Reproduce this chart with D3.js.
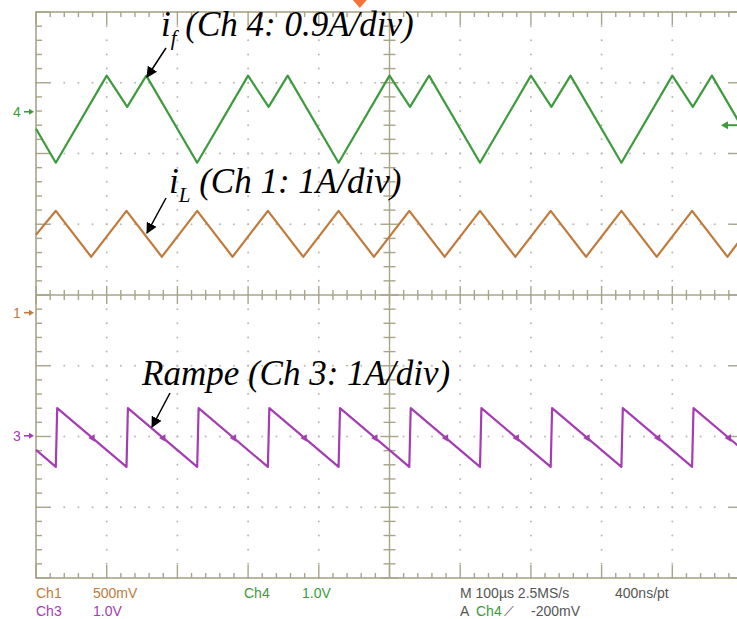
<!DOCTYPE html>
<html><head><meta charset="utf-8">
<script src="https://cdn.jsdelivr.net/npm/d3@7"></script>
<style>html,body{margin:0;padding:0;background:#fff;}svg{display:block;}</style>
</head><body>
<script>
// ---- data (time in µs, amplitude in screen divisions from centre) ----
const greenT = [0, 28, 100, 129, 156, 228, 300, 329, 356, 428, 500, 529, 556, 628, 700, 729, 756, 828, 900, 929, 956, 1000];
const greenV = [2.35, 1.87, 3.10, 2.66, 3.10, 1.87, 3.10, 2.66, 3.10, 1.87, 3.10, 2.66, 3.10, 1.87, 3.10, 2.66, 3.10, 1.87, 3.10, 2.66, 3.10, 2.35];
const orangeT = [0, 28, 78, 128, 178, 228, 278, 328, 378, 428, 478, 528, 578, 628, 678, 728, 778, 828, 878, 928, 978, 1000];
const orangeV = [0.85, 1.19, 0.54, 1.19, 0.54, 1.19, 0.54, 1.19, 0.54, 1.19, 0.54, 1.19, 0.54, 1.19, 0.54, 1.19, 0.54, 1.19, 0.54, 1.19, 0.54, 0.83];
const purpleT = [0, 28, 30, 128, 130, 228, 230, 328, 330, 428, 430, 528, 530, 628, 630, 728, 730, 828, 830, 928, 930, 1000];
const purpleV = [-2.19, -2.43, -1.60, -2.43, -1.60, -2.43, -1.60, -2.43, -1.60, -2.43, -1.60, -2.43, -1.60, -2.43, -1.60, -2.43, -1.60, -2.43, -1.60, -2.43, -1.60, -2.19];
const purpleMarkT = [80, 180, 280, 380, 480, 580, 680, 780, 880, 980];
const purpleMarkV = [-2.02, -2.02, -2.02, -2.02, -2.02, -2.02, -2.02, -2.02, -2.02, -2.02];
const chNames = ["4", "1", "3"];
const chLevels = [2.59, -0.25, -1.99];
const triggerT = 458;
const triggerLevel = 2.40;
const annotations = [
  {main: "i", sub: "f", rest: " (Ch 4: 0.9A/div)"},
  {main: "i", sub: "L", rest: " (Ch 1: 1A/div)"},
  {main: "Rampe", sub: "", rest: " (Ch 3: 1A/div)"}
];
const footerRow1 = [["Ch1","c1"],["500mV","c1"],["Ch4","c4"],["1.0V","c4"],["M 100µs 2.5MS/s","g"],["400ns/pt","g"]];
const footerRow2 = [["Ch3","c3"],["1.0V","c3"],["A","g"],["Ch4","c4"],["⟋","g"],["-200mV","g"]];

// ---- layout / styles ----
const W = 737, H = 619;
const C = {c4: "#3d9a3d", c1: "#c07b3c", c3: "#a43db2", g: "#555555", grid: "#a8a48a", dot: "#bdb8b4"};
const svg = d3.select("body").append("svg").attr("width", W).attr("height", H);
const x = d3.scaleLinear().domain([0, 1000]).range([36, 743]);
const y = d3.scaleLinear().domain([-4, 4]).range([578, 12]);

const gGrid = svg.append("g");
const majX = d3.range(0, 1001, 100), majY = d3.range(-4, 4.001, 1);
const minX = d3.range(0, 1001, 20), minY = d3.range(-4, 4.001, 0.2);
majX.filter(t => t !== 0 && t !== 500 && t !== 1000).forEach(t => {
  minY.forEach(v => gGrid.append("circle").attr("cx", x(t)).attr("cy", y(v)).attr("r", 1).attr("fill", C.dot));
});
majY.filter(v => Math.abs(v) > 0.01 && Math.abs(v) < 3.99).forEach(v => {
  minX.forEach(t => gGrid.append("circle").attr("cx", x(t)).attr("cy", y(v)).attr("r", 1).attr("fill", C.dot));
});
gGrid.append("rect").attr("x", x(0)).attr("y", y(4)).attr("width", x(1000) - x(0)).attr("height", y(-4) - y(4))
  .attr("fill", "none").attr("stroke", C.grid).attr("stroke-width", 1.6);
gGrid.append("line").attr("x1", x(500)).attr("x2", x(500)).attr("y1", y(4)).attr("y2", y(-4)).attr("stroke", C.grid).attr("stroke-width", 1.4);
gGrid.append("line").attr("x1", x(0)).attr("x2", x(1000)).attr("y1", y(0)).attr("y2", y(0)).attr("stroke", C.grid).attr("stroke-width", 1.4);
const isMajT = t => Math.abs(t / 100 - Math.round(t / 100)) < 1e-6;
const isMajV = v => Math.abs(v - Math.round(v)) < 1e-6;
const tk = (x1, y1, x2, y2) => gGrid.append("line").attr("x1", x1).attr("y1", y1).attr("x2", x2).attr("y2", y2).attr("stroke", C.grid).attr("stroke-width", 1.4);
minX.forEach(t => {
  const L = isMajT(t) ? 13 : 5;
  tk(x(t), y(4), x(t), y(4) + L);
  tk(x(t), y(-4), x(t), y(-4) - L);
  const c = isMajT(t) ? 9 : 5;
  tk(x(t), y(0) - c, x(t), y(0) + c);
});
minY.forEach(v => {
  const L = isMajV(v) ? 14 : 6;
  tk(x(0), y(v), x(0) + L, y(v));
  tk(x(1000), y(v), x(1000) - L, y(v));
  const c = isMajV(v) ? 9 : 6;
  tk(x(500) - c, y(v), x(500) + c, y(v));
});

// ---- traces ----
const line = d3.line().x(d => x(d[0])).y(d => y(d[1]));
const trace = (T, V, col) => svg.append("path").datum(T.map((t, i) => [t, V[i]]))
  .attr("d", line).attr("fill", "none").attr("stroke", col).attr("stroke-width", 2.2).attr("stroke-linejoin", "round");
trace(greenT, greenV, C.c4);
trace(orangeT, orangeV, C.c1);
trace(purpleT, purpleV, C.c3);
svg.append("g").selectAll("path").data(purpleMarkT.map((t, i) => [t, purpleMarkV[i]])).join("path")
  .attr("transform", d => `translate(${x(d[0])},${y(d[1])}) rotate(30)`)
  .attr("d", d3.symbol().type(d3.symbolTriangle).size(24)).attr("fill", C.c3);

// ---- channel reference markers ----
const chCols = [C.c4, C.c1, C.c3];
chNames.forEach((n, i) => {
  const yy = y(chLevels[i]);
  svg.append("text").attr("x", 13).attr("y", yy + 5).attr("font-family", "Liberation Sans, Arial, sans-serif")
    .attr("font-size", 14).attr("fill", chCols[i]).text(n);
  svg.append("line").attr("x1", 24).attr("x2", 31).attr("y1", yy).attr("y2", yy).attr("stroke", chCols[i]).attr("stroke-width", 1.6);
  svg.append("path").attr("d", `M${34},${yy} L${29},${yy - 3} L${29},${yy + 3} Z`).attr("fill", chCols[i]);
});
const tx = x(triggerT);
svg.append("path").attr("d", `M${tx - 7},0 L${tx + 7},0 L${tx},8 Z`).attr("fill", "#f2733a");
const ty = y(triggerLevel);
svg.append("line").attr("x1", 727).attr("x2", 737).attr("y1", ty).attr("y2", ty).attr("stroke", C.c4).attr("stroke-width", 2);
svg.append("path").attr("d", `M${721},${ty} L${728},${ty - 4} L${728},${ty + 4} Z`).attr("fill", C.c4);

// ---- annotations ----
const aPos = [
  {x: 161, y: 36, ax1: 166, ay1: 48, ax2: 147, ay2: 77},
  {x: 169, y: 193, ax1: 166, ay1: 198, ax2: 147, ay2: 233},
  {x: 142, y: 385, ax1: 170, ay1: 393, ax2: 152, ay2: 427}
];
const serif = "Liberation Serif, Times New Roman, serif";
svg.append("defs").append("marker").attr("id", "ah").attr("viewBox", "0 0 10 10").attr("refX", 9).attr("refY", 5)
  .attr("markerWidth", 11).attr("markerHeight", 11).attr("markerUnits", "userSpaceOnUse").attr("orient", "auto")
  .append("path").attr("d", "M0,0 L10,5 L0,10 Z").attr("fill", "#000");
annotations.forEach((a, i) => {
  const p = aPos[i];
  const t = svg.append("text").attr("x", p.x).attr("y", p.y).attr("font-family", serif).attr("font-style", "italic").attr("font-size", 35).attr("fill", "#000");
  t.append("tspan").text(a.main);
  if (a.sub) {
    t.append("tspan").attr("dy", 9).attr("font-size", 21).text(a.sub);
    t.append("tspan").attr("dy", -9).text(a.rest);
  } else {
    t.append("tspan").text(a.rest);
  }
  svg.append("line").attr("x1", p.ax1).attr("y1", p.ay1).attr("x2", p.ax2).attr("y2", p.ay2)
    .attr("stroke", "#000").attr("stroke-width", 1.5).attr("marker-end", "url(#ah)");
});

// ---- footer ----
const fx1 = [36, 93, 244, 302, 460, 615], fx2 = [36, 93, 460, 476, 504, 531];
const sans = "Liberation Sans, Arial, sans-serif";
footerRow1.forEach((d, i) => svg.append("text").attr("x", fx1[i]).attr("y", 598).attr("font-family", sans).attr("font-size", 14).attr("fill", C[d[1]]).text(d[0]));
footerRow2.forEach((d, i) => svg.append("text").attr("x", fx2[i]).attr("y", 616).attr("font-family", sans).attr("font-size", 14).attr("fill", C[d[1]]).text(d[0]));
</script>
</body></html>
